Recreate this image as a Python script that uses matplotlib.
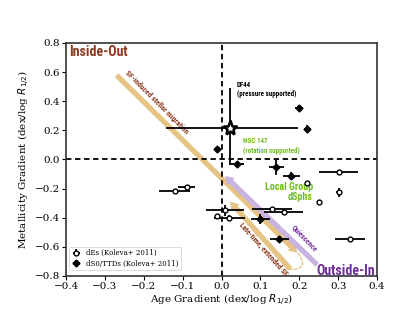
import matplotlib
matplotlib.use("Agg")
import matplotlib.pyplot as plt
from matplotlib.patches import FancyArrowPatch
from matplotlib import font_manager

# dEs (Koleva+ 2011) - open symbols
de_x = [-0.12, -0.09, 0.009, -0.011, 0.02, 0.13, 0.16, 0.221, 0.251, 0.301, 0.301, 0.33]
de_y = [-0.214, -0.19, -0.35, -0.385, -0.40, -0.339, -0.362, -0.163, -0.293, -0.088, -0.225, -0.545]
de_xerr = [0.04, 0.022, 0.05, 0.006, 0.04, 0.052, 0.05, 0.006, 0.006, 0.05, 0.006, 0.039]
de_yerr = [0.01, 0.01, 0.04, 0.01, 0.02, 0.015, 0.015, 0.015, 0.01, 0.015, 0.03, 0.01]

# dS0/TTDs (Koleva+ 2011) - filled symbols
ds_x = [-0.011, 0.039, 0.141, 0.179, 0.10, 0.149, 0.20, 0.221]
ds_y = [0.074, -0.03, -0.054, -0.113, -0.41, -0.545, 0.357, 0.209]
ds_xerr = [0.008, 0.02, 0.02, 0.022, 0.025, 0.025, 0.01, 0.01]
ds_yerr = [0.015, 0.01, 0.055, 0.03, 0.035, 0.02, 0.02, 0.03]

# DF44
df44_x = [0.022]
df44_y = [0.214]
df44_xerr = [[0.165], [0.174]]
df44_yerr = [[0.25], [0.275]]

xticks = [-0.4, -0.3, -0.2, -0.1, 0.0, 0.1, 0.2, 0.3, 0.4]
yticks = [-0.8, -0.6, -0.4, -0.2, 0.0, 0.2, 0.4, 0.6, 0.8]

plt.rcParams['font.family'] = ['DejaVu Serif']
plt.rcParams['mathtext.fontset'] = 'dejavusans'

available = {f.name for f in font_manager.fontManager.ttflist}
cond = None
for cand in ['Liberation Sans Narrow', 'DejaVu Sans Condensed', 'Roboto Condensed',
             'Open Sans Condensed', 'Noto Sans Condensed']:
    if cand in available:
        cond = cand
        break
cond_stretch = 'normal'
if cond is None:
    cond = 'DejaVu Sans'
    cond_stretch = 'condensed'
cond_fam = [cond, 'DejaVu Sans']

fig = plt.figure(figsize=(4.16, 3.33), dpi=100)
ax = fig.add_axes([0.1587, 0.1712, 0.7476, 0.6997])
ax.set_xlim(-0.4, 0.4)
ax.set_ylim(-0.8, 0.8)
ax.set_xticks(xticks)
ax.set_yticks(yticks)
ax.set_xticklabels([f"{t:.1f}".replace('-', '\u2212') for t in xticks], fontsize=7.5)
ax.set_yticklabels([f"{t:.1f}".replace('-', '\u2212') for t in yticks], fontsize=7.5)
ax.tick_params(direction='out', length=3, width=0.8, pad=1.5)
for s in ax.spines.values():
    s.set_linewidth(1.2)
    s.set_color('#333333')
ax.set_xlabel(r"Age Gradient (dex/log $R_{1/2}$)", fontsize=7.5, labelpad=1)
ax.set_ylabel(r"Metallicity Gradient (dex/log $R_{1/2}$)", fontsize=7.5, labelpad=2)

ax.axvline(0, color='black', ls=(0, (3, 2)), lw=1.3, zorder=2)
ax.axhline(0, color='black', ls=(0, (3, 2)), lw=1.3, zorder=2)

tan = '#E6C486'
lav = '#C8B4DE'
brown = '#8B3A1F'
purple = '#6E2E98'
green = '#6DBE1E'

style = 'simple,head_width=7.5,head_length=6,tail_width=3.8'
a1 = FancyArrowPatch((-0.27, 0.579), (0.195, -0.64), arrowstyle=style,
                     color=tan, lw=0, zorder=1, shrinkA=0, shrinkB=0)
ax.add_patch(a1)
a2 = FancyArrowPatch((0.177, -0.752), (0.022, -0.289), arrowstyle=style,
                     color=tan, lw=0, zorder=1, shrinkA=0, shrinkB=0)
ax.add_patch(a2)
a3 = FancyArrowPatch((0.246, -0.723), (0.009, -0.113), arrowstyle=style,
                     color=lav, lw=0, zorder=1, shrinkA=0, shrinkB=0)
ax.add_patch(a3)
loop = FancyArrowPatch((0.197, -0.645), (0.177, -0.755),
                       connectionstyle='arc3,rad=-1.0', arrowstyle='-',
                       color=tan, lw=1.0, ls=(0, (2, 1.5)), zorder=1,
                       shrinkA=0, shrinkB=0)
ax.add_patch(loop)

ax.errorbar(de_x, de_y, xerr=de_xerr, yerr=de_yerr, fmt='o', ms=3.5,
            mfc='white', mec='black', mew=1.0, ecolor='black', elinewidth=1.3,
            capsize=0, zorder=4, label='dEs (Koleva+ 2011)')
ax.errorbar(ds_x, ds_y, xerr=ds_xerr, yerr=ds_yerr, fmt='D', ms=3.5,
            mfc='black', mec='black', mew=1.0, ecolor='black', elinewidth=1.3,
            capsize=0, zorder=4, label='dS0/TTDs (Koleva+ 2011)')
ax.errorbar(df44_x, df44_y, xerr=df44_xerr, yerr=df44_yerr, fmt='*', ms=11,
            mfc='white', mec='black', mew=1.8, ecolor='black', elinewidth=1.3,
            capsize=0, zorder=5)

kw = dict(family=cond_fam, stretch=cond_stretch)
ax.text(-0.391, 0.736, "Inside-Out", color=brown, fontsize=10, fontweight='bold',
        ha='left', va='center', **kw)
ax.text(0.396, -0.764, "Outside-In", color=purple, fontsize=10, fontweight='bold',
        ha='right', va='center', **kw)
ax.text(-0.167, 0.392, "SF-induced stellar migration", color=brown, fontsize=5.5,
        fontweight='bold', rotation=-45, ha='center', va='center',
        rotation_mode='anchor', **kw)
ax.text(0.107, -0.62, "Late-time, extended SF", color=brown, fontsize=5.4,
        fontweight='bold', rotation=-48, ha='center', va='center',
        rotation_mode='anchor', **kw)
ax.text(0.213, -0.538, "Quiescence", color=purple, fontsize=5.2, fontweight='bold',
        rotation=-46, ha='center', va='center', rotation_mode='anchor', **kw)
ax.text(0.235, -0.222, "Local Group\ndSphs", color=green, fontsize=7.2, fontweight='bold',
        ha='right', va='center', linespacing=1.05, **kw)
ax.text(0.055, 0.092, "NGC 147\n(rotation supported)", color=green, fontsize=5,
        fontweight='bold', ha='left', va='center', linespacing=1.3, **kw)
ax.text(0.039, 0.48, "DF44\n(pressure supported)", color='black', fontsize=5,
        fontweight='bold', ha='left', va='center', linespacing=1.3, **kw)

leg = ax.legend(loc='lower left', fontsize=5, frameon=True, handlelength=1.2,
                borderpad=0.4, labelspacing=0.3, handletextpad=0.8,
                bbox_to_anchor=(0.0, 0.01))
leg.get_frame().set_edgecolor('#cccccc')
leg.get_frame().set_linewidth(0.6)

fig.savefig('out.png', dpi=100)
